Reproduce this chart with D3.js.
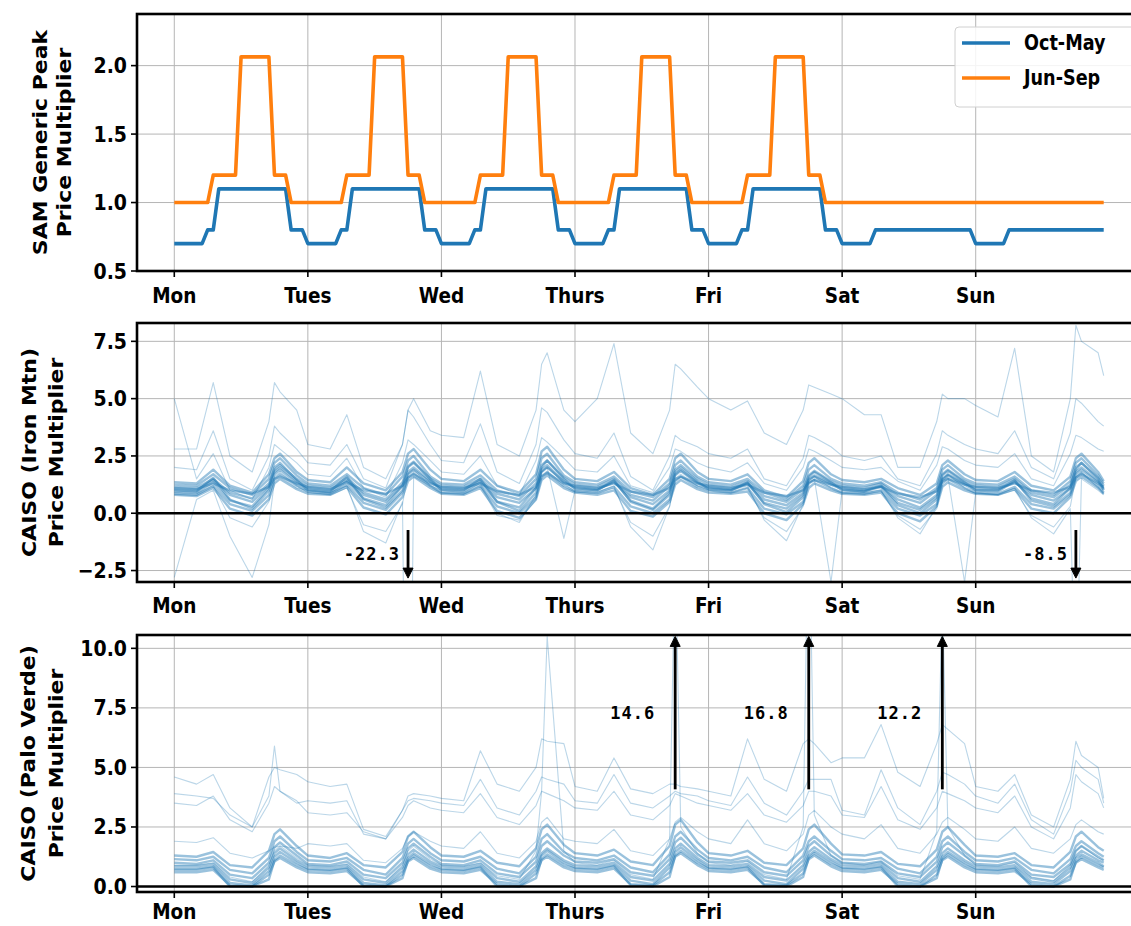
<!DOCTYPE html>
<html><head><meta charset="utf-8">
<script src="https://cdn.jsdelivr.net/npm/d3@7"></script>
<style>body{margin:0;background:#fff}svg{display:block}</style>
</head><body>
<svg id="chart" width="1131" height="926"></svg>
<script>
// ---------- DATA ----------
const dayNames = ["Mon","Tues","Wed","Thurs","Fri","Sat","Sun"];
const dayTickHours = [0,24,48,72,96,120,144];
const seriesNames = ["Oct-May","Jun-Sep"];

// SAM generic peak schedule, hourly (h0..h23)
const octMayWeekday = [0.7,0.7,0.7,0.7,0.7,0.7,0.8,0.8,1.1,1.1,1.1,1.1,1.1,1.1,1.1,1.1,1.1,1.1,1.1,1.1,1.1,0.8,0.8,0.8];
const octMayWeekend = [0.7,0.7,0.7,0.7,0.7,0.7,0.8,0.8,0.8,0.8,0.8,0.8,0.8,0.8,0.8,0.8,0.8,0.8,0.8,0.8,0.8,0.8,0.8,0.8];
const junSepWeekday = [1.0,1.0,1.0,1.0,1.0,1.0,1.0,1.2,1.2,1.2,1.2,1.2,2.064,2.064,2.064,2.064,2.064,2.064,1.2,1.2,1.2,1.0,1.0,1.0];
const junSepWeekend = [1.0,1.0,1.0,1.0,1.0,1.0,1.0,1.0,1.0,1.0,1.0,1.0,1.0,1.0,1.0,1.0,1.0,1.0,1.0,1.0,1.0,1.0,1.0,1.0];

// CAISO weekly profiles, sampled at these hours of each day (plus final hour 167)
const sampleOffsets = [0,4,7,10,14,17,18,19,22];
const lastHour = 167;

const iron1 = [1.05,1.0,1.45,0.8,0.5,1.2,1.8,2.0,1.4, 1.1,1.0,1.45,0.8,0.5,1.2,1.8,2.0,1.4, 1.1,1.05,1.4,0.7,0.45,1.1,1.8,2.0,1.4, 1.15,1.05,1.35,0.7,0.4,1.0,1.7,1.9,1.35, 1.15,1.05,1.3,0.6,0.35,0.9,1.5,1.65,1.3, 1.1,1.0,1.2,0.6,0.25,0.8,1.5,1.7,1.3, 1.1,1.05,1.35,0.8,0.55,1.1,1.8,2.0,1.4, 1.1];
const iron2 = [0.85,0.8,1.2,0.4,0.1,0.8,1.5,1.7,1.2, 0.95,0.85,1.25,0.45,0.15,0.9,1.55,1.75,1.2, 0.9,0.85,1.2,0.3,0.0,0.7,1.6,1.8,1.2, 0.95,0.9,1.15,0.3,0.0,0.6,1.4,1.6,1.15, 1.0,0.9,1.1,0.2,-0.05,0.5,1.3,1.45,1.1, 0.9,0.85,1.0,0.2,-0.1,0.4,1.3,1.5,1.1, 0.9,0.85,1.15,0.4,0.2,0.8,1.55,1.75,1.2, 0.9];
const iron3 = [1.25,1.2,1.7,1.1,0.8,1.5,2.2,2.4,1.65, 1.3,1.2,1.7,1.1,0.8,1.6,2.3,2.5,1.6, 1.3,1.25,1.65,1.0,0.75,1.5,2.4,2.6,1.65, 1.35,1.25,1.6,0.95,0.7,1.3,2.1,2.3,1.6, 1.35,1.25,1.5,0.9,0.6,1.2,1.9,2.1,1.5, 1.3,1.2,1.35,0.9,0.6,1.1,1.9,2.1,1.5, 1.3,1.25,1.6,1.0,0.8,1.4,2.2,2.4,1.65, 1.3];
const iron4 = [1.0,0.95,1.55,0.6,0.2,1.0,1.7,1.9,1.3, 1.05,0.95,1.6,0.6,0.25,1.0,1.7,1.9,1.35, 1.05,1.0,1.5,0.5,0.1,0.9,1.9,2.1,1.35, 1.1,1.0,1.45,0.5,0.15,0.8,1.65,1.85,1.3, 1.1,1.0,1.35,0.4,0.05,0.7,1.45,1.6,1.25, 1.05,0.95,1.15,0.35,0.0,0.6,1.45,1.65,1.25, 1.0,1.0,1.45,0.55,0.3,0.9,1.7,1.9,1.35, 1.05];
const iron5 = [1.1,1.05,1.3,1.0,0.85,1.15,1.5,1.6,1.3, 1.15,1.05,1.35,1.0,0.85,1.2,1.55,1.7,1.3, 1.15,1.1,1.3,0.95,0.8,1.15,1.6,1.75,1.3, 1.2,1.1,1.3,0.95,0.8,1.1,1.5,1.6,1.3, 1.2,1.1,1.25,0.9,0.75,1.0,1.35,1.45,1.25, 1.15,1.05,1.15,0.85,0.7,0.95,1.4,1.5,1.25, 1.15,1.1,1.3,1.0,0.9,1.15,1.55,1.7,1.3, 1.15];
const iron6 = [0.95,0.9,1.35,0.55,0.3,1.1,2.0,2.2,1.45, 1.0,0.9,1.4,0.65,0.35,1.2,2.05,2.25,1.5, 1.0,0.95,1.35,0.5,0.25,1.1,2.1,2.3,1.5, 1.05,1.0,1.4,0.55,0.2,0.9,1.8,2.0,1.4, 1.05,1.0,1.3,0.45,0.2,0.8,1.6,1.8,1.35, 1.0,0.95,1.2,0.45,0.15,0.7,1.65,1.85,1.35, 1.0,0.95,1.4,0.65,0.4,1.1,2.0,2.2,1.5, 1.0];
const iron7 = [1.35,1.3,1.9,1.2,0.9,1.7,2.4,2.6,1.8, 1.45,1.35,2.0,1.3,1.0,1.8,2.6,2.8,1.9, 1.5,1.4,1.9,1.2,0.9,1.7,2.7,2.9,1.9, 1.5,1.4,1.8,1.1,0.8,1.5,2.4,2.6,1.8, 1.5,1.4,1.7,1.0,0.7,1.4,2.2,2.4,1.7, 1.45,1.35,1.5,1.1,0.8,1.3,2.1,2.3,1.7, 1.45,1.4,1.8,1.2,1.0,1.6,2.4,2.6,1.8, 1.4];
const iron8 = [0.8,0.75,1.1,0.2,-0.1,0.6,1.3,1.5,1.05, 0.85,0.8,1.15,0.25,-0.05,0.7,1.4,1.6,1.1, 0.85,0.8,1.1,0.1,-0.2,0.6,1.45,1.65,1.1, 0.9,0.8,1.0,0.1,-0.15,0.5,1.25,1.45,1.05, 0.9,0.85,0.95,0.0,-0.3,0.4,1.1,1.3,1.0, 0.85,0.8,0.9,0.0,-0.35,0.3,1.15,1.35,1.0, 0.85,0.8,1.05,0.2,0.0,0.7,1.4,1.6,1.1, 0.85];
const iron9 = [1.15,1.1,1.5,0.9,0.65,1.3,1.9,2.1,1.5, 1.2,1.1,1.55,0.9,0.6,1.35,2.0,2.2,1.5, 1.2,1.15,1.5,0.85,0.6,1.3,2.0,2.3,1.55, 1.25,1.15,1.5,0.8,0.55,1.2,1.9,2.1,1.5, 1.25,1.15,1.4,0.75,0.5,1.05,1.65,1.85,1.4, 1.2,1.1,1.3,0.75,0.45,1.0,1.7,1.9,1.4, 1.2,1.15,1.5,0.9,0.7,1.25,1.9,2.2,1.55, 1.2];
const ironHigh1 = [2.8,2.8,5.7,2.5,1.8,4.0,5.7,5.3,4.5, 3.0,2.8,4.3,2.0,1.5,3.0,4.5,5.0,3.6, 3.4,3.3,6.2,3.0,2.5,4.5,6.5,7.0,4.5, 4.0,5.0,7.4,3.5,2.6,4.5,6.5,6.3,5.5, 5.0,4.5,4.9,3.5,3.0,4.5,5.6,5.5,5.2, 5.0,4.3,4.3,2.0,2.0,4.0,5.2,5.0,5.0, 4.7,4.2,7.2,2.5,1.8,5.0,8.2,7.5,7.0, 6.0];
const ironHigh2 = [2.0,1.9,3.6,1.5,1.0,2.5,3.8,3.5,2.8, 2.2,2.1,3.0,1.5,1.1,3.0,4.5,4.2,3.0, 2.3,2.2,3.9,1.8,1.3,3.0,4.6,4.4,3.2, 2.6,2.4,3.5,1.6,1.0,2.5,3.4,3.2,2.9, 2.6,2.4,2.8,1.5,1.2,2.4,3.4,3.3,2.9, 2.5,2.3,2.5,1.5,1.2,2.6,3.6,3.4,3.0, 2.8,2.6,3.6,2.0,1.5,3.5,5.0,4.8,4.0, 3.8];
const ironHigh3 = [5.0,1.5,2.6,1.0,0.6,2.0,3.0,2.8,2.2, 1.7,1.6,2.4,1.1,0.7,2.2,3.2,3.0,2.3, 1.8,1.7,2.5,1.2,0.8,2.3,3.3,3.1,2.4, 1.9,1.8,2.5,1.2,0.9,2.0,2.8,2.7,2.2, 2.0,1.8,2.2,1.3,1.0,2.0,2.8,2.7,2.3, 2.0,1.9,2.0,1.4,1.0,2.1,2.9,2.8,2.3, 2.1,2.0,2.6,1.5,1.2,2.6,3.4,3.3,2.8, 2.7];
const ironLow1 = [-2.8,0.6,1.0,-1.0,-2.8,-0.5,1.4,1.6,1.1, 1.0,0.9,1.2,-0.8,-1.3,0.5,-22.3,1.6,1.2, 1.0,0.9,1.3,0.0,-0.4,0.8,1.8,2.0,-1.1, 1.0,0.9,1.2,-0.6,-1.6,0.3,1.4,1.6,1.2, 1.1,1.0,1.2,-0.3,-1.2,0.4,1.3,1.5,-3.0, 1.0,0.9,1.0,-0.2,-0.9,0.3,1.4,1.6,-3.0, 0.9,0.8,1.1,-0.2,-0.9,0.2,-8.5,1.5,1.0, 0.8];
const ironLow2 = [0.9,0.85,1.2,-0.2,-0.6,0.5,1.6,1.8,1.2, 0.9,0.8,1.1,-0.5,-0.8,0.4,1.7,1.9,1.2, 0.9,0.85,1.2,-0.1,-0.3,0.6,1.8,2.0,1.3, 0.95,0.85,1.1,-0.4,-1.0,0.3,1.5,1.7,1.2, 1.0,0.9,1.1,-0.2,-0.8,0.3,1.4,1.6,1.1, 0.9,0.85,0.95,-0.1,-0.7,0.2,1.5,1.7,1.1, 0.85,0.8,1.0,-0.1,-0.6,0.3,1.6,1.8,1.1, 0.85];

const pv1 = [0.85,0.85,0.95,0.3,0.15,0.8,1.4,1.6,1.1, 0.85,0.8,0.9,0.3,0.15,0.8,1.35,1.55,1.05, 0.85,0.8,0.95,0.35,0.2,0.85,1.4,1.6,1.1, 0.9,0.85,1.0,0.4,0.25,0.95,1.6,1.8,1.2, 0.9,0.85,0.95,0.4,0.25,0.9,1.45,1.65,1.15, 0.9,0.85,0.95,0.35,0.2,0.85,1.4,1.6,1.1, 0.85,0.8,0.9,0.35,0.2,0.8,1.3,1.5,1.1, 1.0];
const pv2 = [0.6,0.6,0.7,0.05,0.0,0.5,1.05,1.2,0.8, 0.6,0.55,0.65,0.05,0.0,0.5,1.05,1.2,0.75, 0.6,0.55,0.7,0.1,0.0,0.55,1.1,1.25,0.8, 0.65,0.6,0.75,0.1,0.05,0.6,1.25,1.4,0.9, 0.65,0.6,0.7,0.1,0.05,0.55,1.15,1.3,0.85, 0.65,0.6,0.7,0.1,0.0,0.5,1.1,1.25,0.8, 0.6,0.55,0.65,0.1,0.0,0.45,1.0,1.15,0.8, 0.7];
const pv3 = [1.15,1.1,1.25,0.7,0.55,1.2,1.9,2.1,1.45, 1.1,1.05,1.2,0.7,0.5,1.2,1.8,2.0,1.4, 1.1,1.05,1.25,0.75,0.55,1.25,2.0,2.2,1.45, 1.2,1.1,1.3,0.8,0.6,1.35,2.1,2.3,1.55, 1.2,1.1,1.25,0.8,0.6,1.3,1.9,2.1,1.5, 1.15,1.1,1.2,0.75,0.55,1.25,1.9,2.1,1.45, 1.1,1.05,1.2,0.7,0.55,1.15,1.7,1.9,1.4, 1.25];
const pv4 = [0.75,0.75,0.85,0.15,0.05,0.65,1.25,1.45,1.0, 0.75,0.7,0.8,0.15,0.05,0.65,1.2,1.4,0.95, 0.75,0.7,0.85,0.2,0.1,0.7,1.3,1.5,1.0, 0.8,0.75,0.9,0.25,0.1,0.8,1.45,1.65,1.1, 0.8,0.75,0.85,0.25,0.1,0.75,1.3,1.5,1.05, 0.8,0.75,0.85,0.2,0.1,0.7,1.25,1.45,1.0, 0.75,0.7,0.8,0.2,0.1,0.65,1.2,1.35,1.0, 0.85];
const pv5 = [1.0,0.95,1.1,0.5,0.35,1.0,1.65,1.85,1.3, 0.95,0.9,1.05,0.5,0.35,1.0,1.6,1.8,1.25, 0.95,0.9,1.1,0.55,0.4,1.05,1.7,1.9,1.3, 1.05,1.0,1.15,0.6,0.45,1.15,1.85,2.05,1.35, 1.05,1.0,1.1,0.6,0.45,1.1,1.7,1.9,1.3, 1.0,0.95,1.05,0.55,0.4,1.05,1.65,1.85,1.3, 0.95,0.9,1.05,0.5,0.4,0.95,1.5,1.7,1.25, 1.1];
const pv6 = [0.7,0.7,0.8,0.0,0.0,0.3,1.1,1.3,0.9, 0.7,0.65,0.75,0.0,0.0,0.35,1.1,1.3,0.85, 0.7,0.65,0.8,0.0,0.0,0.35,1.15,1.35,0.9, 0.75,0.7,0.85,0.05,0.0,0.4,1.3,1.5,1.0, 0.75,0.7,0.8,0.05,0.0,0.4,1.2,1.4,0.95, 0.75,0.7,0.8,0.0,0.0,0.35,1.15,1.35,0.9, 0.7,0.65,0.75,0.0,0.0,0.3,1.05,1.25,0.9, 0.8];
const pv7 = [1.3,1.25,1.45,0.9,0.8,1.5,2.2,2.4,1.7, 1.3,1.2,1.4,0.9,0.8,1.45,2.1,2.3,1.65, 1.3,1.25,1.5,1.0,0.85,1.6,2.4,2.6,1.75, 1.4,1.3,1.55,1.05,0.9,1.7,2.6,2.8,1.85, 1.4,1.3,1.5,1.0,0.9,1.6,2.4,2.6,1.8, 1.35,1.3,1.45,0.95,0.85,1.55,2.3,2.5,1.75, 1.3,1.25,1.4,0.9,0.8,1.45,2.1,2.3,1.65, 1.5];
const pv8 = [1.9,1.85,2.05,1.4,1.2,1.5,1.65,1.7,1.6, 1.8,1.7,1.8,1.1,1.0,1.6,2.1,2.3,1.9, 1.7,1.6,2.3,1.4,1.2,1.9,2.7,2.9,2.0, 1.9,1.8,2.4,1.5,1.3,2.0,2.7,2.9,2.3, 2.0,1.8,2.8,1.8,1.5,2.2,3.0,3.2,2.5, 2.2,2.0,2.6,1.6,1.4,2.2,2.7,2.9,2.4, 2.0,1.9,2.5,1.6,1.4,2.0,2.6,2.8,2.3, 2.2];
const pvHigh1 = [4.6,4.3,4.7,3.3,2.5,4.6,5.0,4.9,4.7, 4.4,4.2,4.3,2.4,2.1,3.2,3.8,3.9,3.8, 3.7,3.6,5.7,4.3,4.0,5.0,6.2,6.1,6.0, 4.2,4.0,5.4,4.1,3.9,4.3,4.3,4.2,4.1, 4.0,3.8,6.2,4.5,4.0,6.0,6.2,6.0,5.2, 5.4,5.4,6.8,4.8,4.2,6.0,6.8,6.6,6.0, 4.2,4.0,4.7,3.0,2.5,4.5,6.1,5.5,5.0, 3.7];
const pvHigh2 = [3.9,3.8,3.7,3.0,2.5,3.8,5.9,4.0,3.5, 3.6,3.5,3.6,2.2,2.0,3.2,3.6,3.7,3.6, 3.5,3.4,4.5,3.3,3.0,4.0,4.6,4.5,4.3, 3.6,3.5,4.7,3.5,3.3,3.8,4.0,3.9,3.8, 3.6,3.4,4.6,3.5,3.0,4.0,4.5,4.5,4.5, 3.2,3.0,4.9,3.3,2.6,4.0,4.8,4.7,4.3, 3.8,3.5,4.3,2.8,2.2,4.0,5.3,5.0,4.5, 3.5];
const pvHigh3 = [3.5,3.4,3.8,2.8,2.3,3.5,4.2,4.0,3.6, 3.1,3.0,3.1,2.3,2.0,2.9,3.4,3.6,3.3, 3.2,3.1,3.9,2.9,2.6,3.4,4.0,3.9,3.6, 3.3,3.2,4.0,3.0,2.8,3.4,3.9,3.8,3.5, 3.4,3.2,3.9,3.0,2.7,3.4,4.0,4.0,3.8, 3.0,2.9,4.2,2.8,2.4,3.3,4.0,3.9,3.6, 3.3,3.1,3.8,2.5,2.0,3.3,4.7,4.4,3.9, 3.3];
const pvSpike = [0.9,0.9,1.0,0.4,0.2,0.9,1.5,1.7,1.2, 0.9,0.85,0.95,0.4,0.2,0.9,1.5,1.7,1.15, 0.9,0.85,1.0,0.45,0.3,1.5,4.0,10.5,1.5, 1.0,0.9,1.1,0.5,0.3,2.0,14.6,2.5,1.4, 1.0,0.9,1.05,0.5,0.3,2.5,16.8,3.0,1.3, 1.0,0.9,1.05,0.45,0.3,2.3,12.2,2.5,1.3, 0.9,0.85,1.0,0.4,0.25,0.9,1.5,1.7,1.2, 1.1];

// weeks outside the main band, then the band itself
const ironMtnOutliers = [ironHigh1, ironHigh2, ironHigh3, ironLow1, ironLow2];
const ironMtnBand = [iron1, iron2, iron3, iron4, iron5, iron6, iron7, iron8, iron9];
const paloVerdeOutliers = [pvHigh1, pvHigh2, pvHigh3, pvSpike, pv8];
const paloVerdeBand = [pv1, pv2, pv3, pv4, pv5, pv6, pv7];

// annotations of off-scale extremes
const ironAnnotHours = [42, 162];
const ironAnnotLabels = ["-22.3", "-8.5"];
const pvAnnotHours = [90, 114, 138];
const pvAnnotLabels = ["14.6", "16.8", "12.2"];

// ---------- DRAW ----------
const svg = d3.select("#chart");
const FONT = "'DejaVu Sans', sans-serif";
const MONO = "'DejaVu Sans Mono', monospace";
const SX = 0.86; // horizontal squeeze of the reference's lettering
const blue = "#1f77b4", orange = "#ff7f0e";

const x = d3.scaleLinear().domain([-6.7, 173.7]).range([137, 1141]);

const sampleHours = [];
for (let d = 0; d < 7; d++) for (const o of sampleOffsets) sampleHours.push(d * 24 + o);
sampleHours.push(lastHour);

function weekSeries(wd, we) { return [].concat(wd, wd, wd, wd, wd, we, we); }
const octMay = weekSeries(octMayWeekday, octMayWeekend);
const junSep = weekSeries(junSepWeekday, junSepWeekend);

function txt(g, px, py, s, o) {
  o = o || {};
  return g.append("text")
    .attr("transform", `translate(${px},${py}) scale(${o.sx || SX},1)` + (o.rot ? " rotate(-90)" : ""))
    .attr("text-anchor", o.anchor || "middle")
    .attr("dominant-baseline", o.baseline || "auto")
    .attr("font-family", o.family || FONT)
    .attr("font-weight", "bold")
    .attr("font-size", o.size || 22)
    .attr("letter-spacing", o.ls || 0)
    .attr("fill", "#000")
    .text(s);
}

const panels = [
  { top: 14, bottom: 271, domain: [0.5, 2.377], ticks: [0.5, 1.0, 1.5, 2.0], label: ["SAM Generic Peak", "Price Multiplier"], labelX: [41, 65], tickDy: 32 },
  { top: 323, bottom: 582, domain: [-3, 8.3], ticks: [-2.5, 0, 2.5, 5, 7.5], label: ["CAISO (Iron Mtn)", "Price Multiplier"], labelX: [30, 57], tickDy: 31 },
  { top: 635, bottom: 892, domain: [-0.23, 10.56], ticks: [0, 2.5, 5, 7.5, 10], label: ["CAISO (Palo Verde)", "Price Multiplier"], labelX: [29, 57], tickDy: 27 }
];
const fmt = d3.format(".1f");

panels.forEach((p, i) => {
  const y = d3.scaleLinear().domain(p.domain).range([p.bottom, p.top]);
  p.y = y;
  const g = svg.append("g");
  const L = x.range()[0], R = x.range()[1];
  svg.append("clipPath").attr("id", "clip" + i).append("rect")
    .attr("x", L).attr("y", p.top).attr("width", R - L).attr("height", p.bottom - p.top);
  g.selectAll(".gx").data(dayTickHours).enter().append("line")
    .attr("x1", d => x(d)).attr("x2", d => x(d)).attr("y1", p.top).attr("y2", p.bottom)
    .attr("stroke", "#b5b5b5").attr("stroke-width", 1);
  g.selectAll(".gy").data(p.ticks).enter().append("line")
    .attr("x1", L).attr("x2", R).attr("y1", d => y(d)).attr("y2", d => y(d))
    .attr("stroke", "#b5b5b5").attr("stroke-width", 1);
  p.g = g;
  p.plot = g.append("g").attr("clip-path", `url(#clip${i})`);
  g.selectAll(".tx").data(dayTickHours).enter().append("line")
    .attr("x1", d => x(d)).attr("x2", d => x(d)).attr("y1", p.bottom).attr("y2", p.bottom + 6)
    .attr("stroke", "#000").attr("stroke-width", 1.6);
  g.selectAll(".ty").data(p.ticks).enter().append("line")
    .attr("x1", L - 6).attr("x2", L).attr("y1", d => y(d)).attr("y2", d => y(d))
    .attr("stroke", "#000").attr("stroke-width", 1.6);
  dayTickHours.forEach((h, k) => txt(g, x(h), p.bottom + p.tickDy, dayNames[k], { size: 21.5 }));
  p.ticks.forEach(t => txt(g, L - 10, y(t), fmt(t), { anchor: "end", baseline: "central" }));
  const cy = (p.top + p.bottom) / 2;
  p.label.forEach((s, k) => txt(g, p.labelX[k], cy, s, { rot: true, baseline: "central", size: 22 }));
});

// ---- Top panel: SAM schedules
(function () {
  const p = panels[0];
  const line = d3.line().x((v, i) => x(i)).y(v => p.y(v));
  [[octMay, blue], [junSep, orange]].forEach(([s, c]) => {
    p.plot.append("path").attr("d", line(s)).attr("fill", "none")
      .attr("stroke", c).attr("stroke-width", 3.6).attr("stroke-linejoin", "round");
  });
  const lg = p.g.append("g");
  lg.append("rect").attr("x", 955).attr("y", 27).attr("width", 180).attr("height", 80).attr("rx", 4)
    .attr("fill", "#fff").attr("fill-opacity", 0.85).attr("stroke", "#d0d0d0").attr("stroke-width", 1);
  [[seriesNames[0], blue, 43], [seriesNames[1], orange, 78]].forEach(([s, c, yy]) => {
    lg.append("line").attr("x1", 962).attr("x2", 1010).attr("y1", yy).attr("y2", yy)
      .attr("stroke", c).attr("stroke-width", 3.6);
    txt(lg, 1024, yy, s, { anchor: "start", baseline: "central", size: 20.5 });
  });
})();

// ---- spaghetti panels
function spaghetti(p, outliers, band) {
  const line = d3.line().x((v, i) => x(sampleHours[i])).y(v => p.y(v));
  outliers.forEach(w => {
    p.plot.append("path").attr("d", line(w)).attr("fill", "none")
      .attr("stroke", blue).attr("stroke-opacity", 0.3).attr("stroke-width", 1.1)
      .attr("stroke-linejoin", "round");
  });
  band.forEach(w => {
    p.plot.append("path").attr("d", line(w)).attr("fill", "none")
      .attr("stroke", blue).attr("stroke-opacity", 0.45).attr("stroke-width", 2.4)
      .attr("stroke-linejoin", "round");
  });
  p.g.append("line").attr("x1", x.range()[0]).attr("x2", x.range()[1])
    .attr("y1", p.y(0)).attr("y2", p.y(0)).attr("stroke", "#000").attr("stroke-width", 2.4);
}
spaghetti(panels[1], ironMtnOutliers, ironMtnBand);
spaghetti(panels[2], paloVerdeOutliers, paloVerdeBand);

panels.forEach(p => {
  const L = x.range()[0], R = x.range()[1];
  p.g.append("rect").attr("x", L).attr("y", p.top).attr("width", R - L).attr("height", p.bottom - p.top)
    .attr("fill", "none").attr("stroke", "#000").attr("stroke-width", 2.6);
});

// ---- annotations
function arrow(g, px, y1, y2) {
  const dir = y2 > y1 ? 1 : -1;
  g.append("line").attr("x1", px).attr("x2", px).attr("y1", y1).attr("y2", y2 - dir * 8)
    .attr("stroke", "#000").attr("stroke-width", 2.8);
  g.append("path").attr("d", `M${px - 5},${y2 - dir * 10} L${px + 5},${y2 - dir * 10} L${px},${y2} Z`)
    .attr("fill", "#000").attr("stroke", "#000").attr("stroke-width", 1);
}
const ann = svg.append("g");
ironAnnotHours.forEach((h, k) => {
  const p = panels[1];
  arrow(ann, x(h), p.y(-0.73), p.y(-2.83));
  txt(ann, x(h) - 8, p.y(-1.8), ironAnnotLabels[k], { anchor: "end", baseline: "central", family: MONO, size: 17, sx: 1, ls: 1 });
});
pvAnnotHours.forEach((h, k) => {
  const p = panels[2];
  arrow(ann, x(h), p.y(4.08), p.y(10.5));
  txt(ann, x(h) - 20, p.y(7.3), pvAnnotLabels[k], { anchor: "end", baseline: "central", family: MONO, size: 17, sx: 1, ls: 1 });
});
</script>
</body></html>
